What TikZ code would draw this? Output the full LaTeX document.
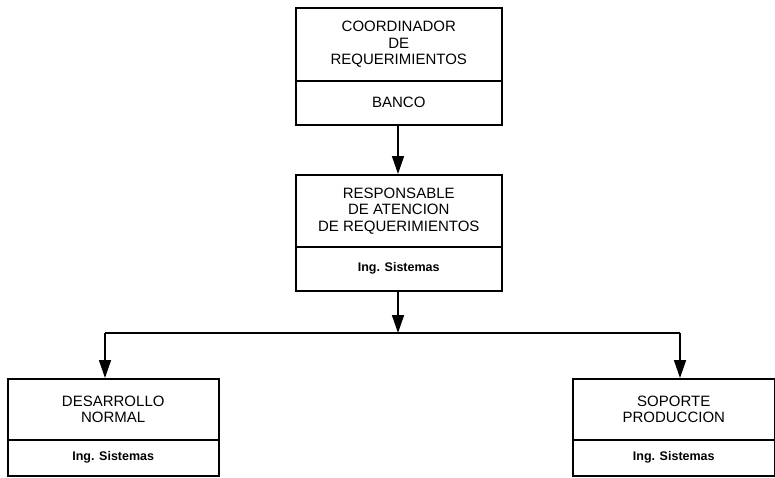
\documentclass[tikz,border=0pt]{standalone}
\usepackage{fontspec}
\setmainfont{Liberation Sans}
\usetikzlibrary{arrows.meta,positioning}
\begin{document}
\begin{tikzpicture}[x=1pt,y=1pt,
  part/.style={draw,line width=1.5pt,inner sep=0pt,align=center,anchor=north west,
     font=\fontsize{15}{16.5}\selectfont},
  sub/.style={part,font=\bfseries\fontsize{12.5}{14}\selectfont},
  arr/.style={line width=1.6pt,-{Triangle[length=18pt,width=12pt]}},
  conn/.style={line width=1.6pt}]
\useasboundingbox (0,0) rectangle (775,-477);
% top box
\node[part,minimum width=206pt,minimum height=73pt] (c1) at (295,-7) {COORDINADOR\\DE\\REQUERIMIENTOS};
\node[part,minimum width=206pt,minimum height=44pt] (c2) at (295,-80) {BANCO};
% second box
\node[part,minimum width=206pt,minimum height=72pt] (r1) at (295,-174) {RESPONSABLE\\DE ATENCION\\DE REQUERIMIENTOS};
\node[sub,minimum width=206pt,minimum height=44pt] (r2) at (295,-246) {Ing. Sistemas};
% left box
\node[part,minimum width=211pt,minimum height=61pt] (d1) at (7,-378) {DESARROLLO\\NORMAL};
\node[sub,minimum width=211pt,minimum height=36pt] (d2) at (7,-439) {Ing. Sistemas};
% right box
\node[part,minimum width=202pt,minimum height=61pt] (s1) at (572,-378) {SOPORTE\\PRODUCCION};
\node[sub,minimum width=202pt,minimum height=36pt] (s2) at (572,-439) {Ing. Sistemas};
% connectors
\coordinate (jn) at (398,-333);
\coordinate (hl) at (105,-333);
\coordinate (hr) at (680,-333);
\draw[arr] (c2.south -| jn) -- (r1.north -| jn);
\draw[arr] (r2.south -| jn) -- (jn);
\draw[conn] (hl) -- (hr);
\draw[arr] (hl) -- (hl |- d1.north);
\draw[arr] (hr) -- (hr |- s1.north);
\end{tikzpicture}
\end{document}
